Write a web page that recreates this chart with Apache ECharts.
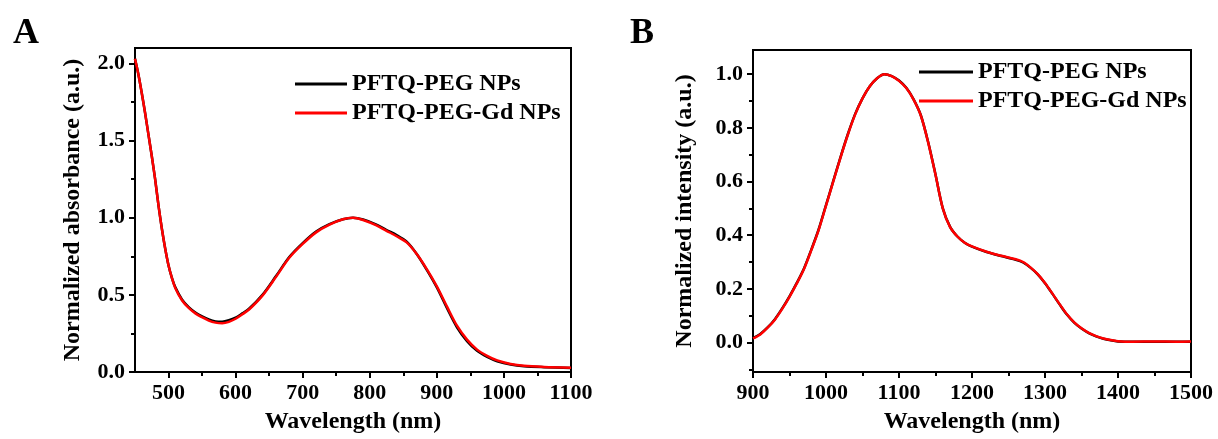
<!DOCTYPE html>
<html>
<head>
<meta charset="utf-8">
<script src="https://cdn.jsdelivr.net/npm/echarts@6/dist/echarts.min.js"></script>
<style>
html,body{margin:0;padding:0;background:#fff;}
#c{width:1218px;height:439px;}
</style>
</head>
<body>
<div id="c"></div>
<script>
// ---------- Panel A: absorbance ----------
const nmA = [450,455,460,465,470,475,480,485,490,495,500,505,510,520,530,540,550,560,570,580,590,600,610,620,640,660,680,700,720,740,760,775,790,810,825,840,855,870,885,900,915,930,945,960,975,990,1010,1030,1060,1100];
const absBlack = [2.03,1.93,1.81,1.68,1.54,1.40,1.25,1.08,0.93,0.80,0.69,0.61,0.55,0.47,0.42,0.385,0.36,0.34,0.328,0.326,0.335,0.352,0.38,0.41,0.50,0.62,0.745,0.835,0.91,0.958,0.99,1.0,0.988,0.955,0.92,0.888,0.845,0.765,0.662,0.548,0.415,0.29,0.2,0.137,0.098,0.07,0.048,0.037,0.031,0.026];
const absRed   = [2.03,1.93,1.81,1.68,1.54,1.40,1.25,1.08,0.93,0.80,0.69,0.61,0.545,0.465,0.415,0.38,0.355,0.333,0.32,0.316,0.325,0.345,0.374,0.405,0.495,0.615,0.74,0.83,0.905,0.955,0.99,1.0,0.985,0.95,0.915,0.88,0.84,0.765,0.667,0.555,0.425,0.30,0.21,0.145,0.105,0.075,0.052,0.04,0.033,0.028];
const xTicksA = [500,600,700,800,900,1000,1100];
const xMinorA = [550,650,750,850,950,1050];
const yTicksA = [0,0.5,1.0,1.5,2.0];
const yMinorA = [0.25,0.75,1.25,1.75];

// ---------- Panel B: emission ----------
const nmB = [900,910,920,930,940,950,960,970,980,990,1000,1010,1020,1030,1040,1050,1060,1070,1080,1090,1100,1110,1120,1130,1140,1150,1160,1170,1180,1190,1200,1220,1240,1260,1270,1280,1290,1300,1310,1320,1330,1340,1350,1360,1370,1380,1390,1400,1420,1450,1480,1500];
const emBlack = [0.017,0.032,0.056,0.087,0.127,0.172,0.222,0.277,0.347,0.422,0.512,0.602,0.692,0.777,0.852,0.91,0.955,0.985,1.0,0.993,0.976,0.949,0.906,0.846,0.746,0.626,0.5,0.431,0.395,0.372,0.357,0.337,0.322,0.308,0.298,0.279,0.254,0.221,0.182,0.142,0.104,0.074,0.052,0.035,0.023,0.014,0.008,0.004,0.003,0.003,0.003,0.003];
const emRed   = [0.015,0.03,0.055,0.085,0.125,0.17,0.22,0.275,0.345,0.42,0.51,0.60,0.69,0.775,0.85,0.91,0.955,0.985,1.0,0.993,0.975,0.948,0.905,0.845,0.745,0.625,0.5,0.43,0.395,0.372,0.358,0.338,0.323,0.31,0.3,0.28,0.255,0.222,0.183,0.143,0.105,0.075,0.053,0.036,0.024,0.015,0.009,0.005,0.003,0.004,0.003,0.004];
const xTicksB = [900,1000,1100,1200,1300,1400,1500];
const xMinorB = [950,1050,1150,1250,1350,1450];
const yTicksB = [0,0.2,0.4,0.6,0.8,1.0];
const yMinorB = [-0.1,0.1,0.3,0.5,0.7,0.9];

const names = ['PFTQ-PEG NPs','PFTQ-PEG-Gd NPs'];
const FONT = "'Liberation Serif','Times New Roman',serif";

function zip(xs, ys){ return xs.map((x,i)=>[x, ys[i]]); }

const labelBase = {show:true, color:'#000', fontFamily:FONT, fontWeight:'bold', fontSize:22, margin:10};

function mainAxis(opt){
  return Object.assign({
    type:'value',
    splitLine:{show:false},
    axisLine:{show:true, onZero:false, lineStyle:{color:'#000', width:2}},
    nameTextStyle:{color:'#000', fontFamily:FONT, fontWeight:'bold', fontSize:24},
    nameLocation:'middle'
  }, opt);
}
function minorAxis(opt){
  return Object.assign({
    type:'value',
    splitLine:{show:false},
    axisLine:{show:false, onZero:false},
    axisLabel:{show:false},
  }, opt);
}
function ticks(vals, len){ return {show:true, inside:false, length:len, customValues:vals, lineStyle:{color:'#000', width:2}}; }

const option = {
  animation:false,
  backgroundColor:'#fff',
  grid:[
    {left:135, right:647, top:48, bottom:66, show:true, borderColor:'#000', borderWidth:2, backgroundColor:'transparent'},
    {left:753, right:27, top:50, bottom:66, show:true, borderColor:'#000', borderWidth:2, backgroundColor:'transparent'}
  ],
  xAxis:[
    mainAxis({gridIndex:0, position:'bottom', min:450, max:1100, name:'Wavelength (nm)', nameGap:38,
      axisTick:ticks(xTicksA, 6),
      axisLabel:Object.assign({}, labelBase, {customValues:xTicksA, formatter:v=>String(v)})}),
    minorAxis({gridIndex:0, position:'bottom', min:450, max:1100, axisTick:ticks(xMinorA, 4)}),
    mainAxis({gridIndex:1, position:'bottom', min:900, max:1500, name:'Wavelength (nm)', nameGap:38,
      axisTick:ticks(xTicksB, 6),
      axisLabel:Object.assign({}, labelBase, {customValues:xTicksB, formatter:v=>String(v)})}),
    minorAxis({gridIndex:1, position:'bottom', min:900, max:1500, axisTick:ticks(xMinorB, 4)})
  ],
  yAxis:[
    mainAxis({gridIndex:0, position:'left', min:0, max:2.1, name:'Normalized absorbance (a.u.)', nameGap:50,
      axisTick:ticks(yTicksA, 6),
      axisLabel:Object.assign({}, labelBase, {customValues:yTicksA, formatter:v=>Number(v).toFixed(1)})}),
    minorAxis({gridIndex:0, position:'left', min:0, max:2.1, axisTick:ticks(yMinorA, 4)}),
    mainAxis({gridIndex:1, position:'left', min:-0.11, max:1.09, name:'Normalized intensity (a.u.)', nameGap:56,
      axisTick:ticks(yTicksB, 6),
      axisLabel:Object.assign({}, labelBase, {customValues:yTicksB, formatter:v=>Number(v).toFixed(1)})}),
    minorAxis({gridIndex:1, position:'left', min:-0.11, max:1.09, axisTick:ticks(yMinorB, 4)})
  ],
  legend:[
    {data:names, orient:'vertical', left:290, top:67, icon:'rect', itemWidth:52, itemHeight:3, itemGap:5,
      selectedMode:false, textStyle:{color:'#000', fontFamily:FONT, fontWeight:'bold', fontSize:24, lineHeight:24}},
    {data:names, orient:'vertical', left:914, top:55, icon:'rect', itemWidth:54, itemHeight:3, itemGap:5,
      selectedMode:false, textStyle:{color:'#000', fontFamily:FONT, fontWeight:'bold', fontSize:24, lineHeight:24}}
  ],
  graphic:[
    {type:'text', left:13, top:16, style:{text:'A', font:"bold 36px 'Liberation Serif', serif", fill:'#000'}},
    {type:'text', left:630, top:16, style:{text:'B', font:"bold 36px 'Liberation Serif', serif", fill:'#000'}}
  ],
  series:[
    {name:names[0], type:'line', xAxisIndex:0, yAxisIndex:0, data:zip(nmA, absBlack), showSymbol:false, smooth:0.3,
      color:'#000', lineStyle:{color:'#000', width:2.5}, z:2},
    {name:names[1], type:'line', xAxisIndex:0, yAxisIndex:0, data:zip(nmA, absRed), showSymbol:false, smooth:0.3,
      color:'#ff0000', lineStyle:{color:'#ff0000', width:2.5}, z:3},
    {name:names[0], type:'line', xAxisIndex:2, yAxisIndex:2, data:zip(nmB, emBlack), showSymbol:false, smooth:0.3,
      color:'#000', lineStyle:{color:'#000', width:2.5}, z:2},
    {name:names[1], type:'line', xAxisIndex:2, yAxisIndex:2, data:zip(nmB, emRed), showSymbol:false, smooth:0.3,
      color:'#ff0000', lineStyle:{color:'#ff0000', width:2.5}, z:3}
  ]
};
const chart = echarts.init(document.getElementById('c'), null, {renderer:'canvas'});
chart.setOption(option);
</script>
</body>
</html>
